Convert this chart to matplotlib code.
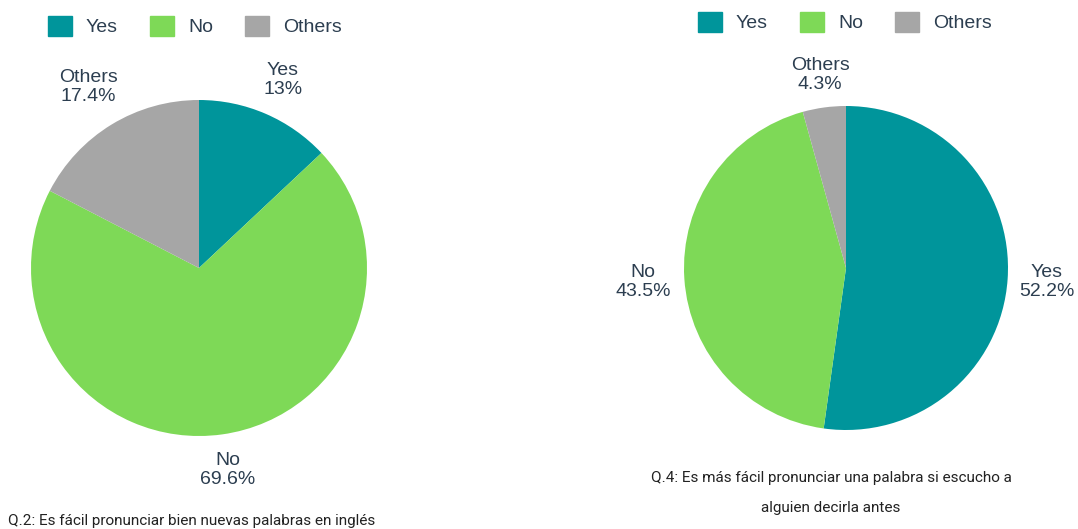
import matplotlib.pyplot as plt
from matplotlib.patches import Patch

categorias = ["Yes", "No", "Others"]
colores = ["#00959b", "#7ed957", "#a6a6a6"]

q2_valores = [13.0, 69.6, 17.4]
q4_valores = [52.2, 43.5, 4.3]

q2_titulo = ["Q.2: Es fácil pronunciar bien nuevas palabras en inglés"]
q4_titulo = ["Q.4: Es más fácil pronunciar una palabra si escucho a",
             "alguien decirla antes"]

W, H = 1078, 529
texto = "#2c3e50"
plt.rcParams["font.family"] = ["Liberation Sans", "DejaVu Sans"]

fig = plt.figure(figsize=(W / 100, H / 100), dpi=100)


def pastel(cx, cy, r, valores, etiquetas_pos, leyenda_pos, titulo, titulo_pos, titulo_ha):
    # ejes cuadrados en pixeles, centrados en el centro del circulo
    ax = fig.add_axes([(cx - r) / W, 1 - (cy + r) / H, 2 * r / W, 2 * r / H])
    ax.pie(valores, colors=colores, startangle=90, counterclock=False,
           radius=1, wedgeprops=dict(linewidth=0))
    ax.set_xlim(-1, 1)
    ax.set_ylim(-1, 1)
    ax.set_aspect("equal")
    ax.axis("off")

    for nombre, valor, (x, y) in zip(categorias, valores, etiquetas_pos):
        txt = f"{valor:g}%"
        fig.text(x / W, 1 - y / H, f"{nombre}\n{txt}", ha="center", va="center",
                 fontsize=14, color=texto, linespacing=1.15)

    manejadores = [Patch(facecolor=c, edgecolor=c) for c in colores]
    fig.legend(manejadores, categorias, loc="center left",
               bbox_to_anchor=(leyenda_pos[0] / W, 1 - leyenda_pos[1] / H),
               ncol=3, frameon=False, fontsize=14, handlelength=1.25,
               handleheight=1.25, handletextpad=0.7, columnspacing=1.65,
               labelcolor=texto, borderpad=0, borderaxespad=0)

    for i, linea in enumerate(titulo):
        fig.text(titulo_pos[0] / W, 1 - (titulo_pos[1] + 30 * i) / H, linea,
                 ha=titulo_ha, va="center", fontsize=11, color="#222222",
                 family="Roboto")


pastel(199, 268, 168, q2_valores,
       [(283, 80), (228, 470), (88, 87)], (48, 26),
       q2_titulo, (8, 521), "left")
pastel(846, 268, 162, q4_valores,
       [(1047, 282), (643, 282), (820, 75)], (698, 22),
       q4_titulo, (831, 478), "center")

fig.savefig("out.png", dpi=100)
